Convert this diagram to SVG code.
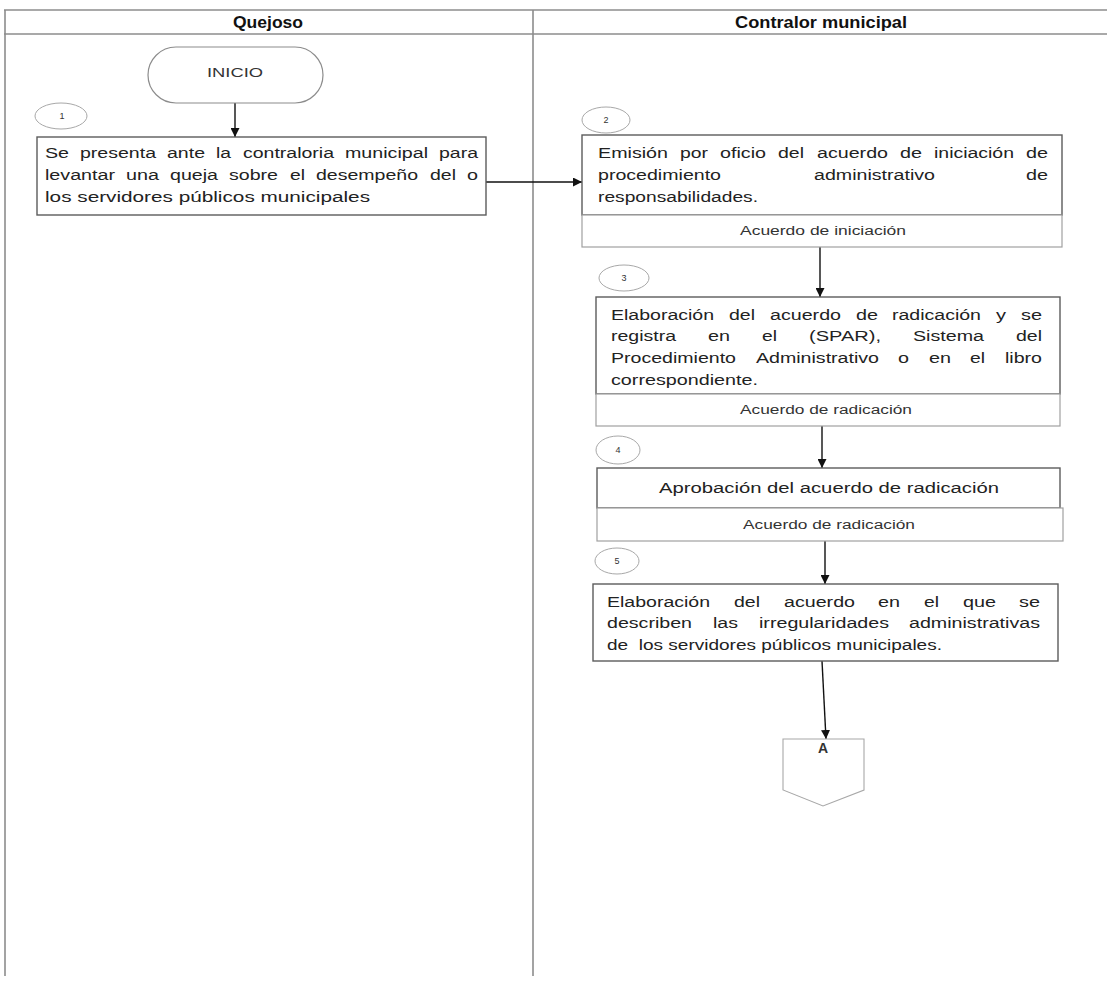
<svg xmlns="http://www.w3.org/2000/svg" width="1107" height="981" viewBox="0 0 1107 981">
  <defs>
    <marker id="arrow" markerUnits="userSpaceOnUse" markerWidth="9" markerHeight="9" refX="9" refY="4.5" orient="auto">
      <path d="M0,0 L9,4.5 L0,9 z" fill="#111"/>
    </marker>
    <style>
      .lane { stroke: #8c8c8c; stroke-width: 1.6; fill: none; }
      .box { fill: #fff; stroke: #5c5c5c; stroke-width: 1.4; }
      .sub { fill: #fff; stroke: #a0a0a0; stroke-width: 1.2; }
      .num { fill: #fff; stroke: #a8a8a8; stroke-width: 1; }
      .term { fill: #fff; stroke: #8c8c8c; stroke-width: 1.2; }
      .offpage { fill: #fff; stroke: #a8a8a8; stroke-width: 1.1; }
      .edge { stroke: #111; stroke-width: 1.4; fill: none; marker-end: url(#arrow); }
      text { font-family: "Liberation Sans", Arial, sans-serif; fill: #222; }
      .hd { font-size: 16px; font-weight: bold; fill: #111; text-anchor: middle; }
      .t { font-size: 14px; }
      .n { font-size: 9px; text-anchor: middle; fill: #333; }
      .lbl { font-size: 12px; text-anchor: middle; fill: #333; }
      .c { font-size: 14px; font-weight: bold; text-anchor: middle; fill: #333; }
    </style>
  </defs>

  <!-- swimlane frame -->
  <g id="lanes">
    <line class="lane" x1="4" y1="10" x2="1107" y2="10"/>
    <line class="lane" x1="4" y1="34" x2="1107" y2="34"/>
    <line class="lane" x1="5" y1="10" x2="5" y2="976"/>
    <line class="lane" x1="533" y1="10" x2="533" y2="976"/>
    <text class="hd" x="268" y="28" textLength="70" lengthAdjust="spacingAndGlyphs">Quejoso</text>
    <text class="hd" x="821" y="28" textLength="172" lengthAdjust="spacingAndGlyphs">Contralor municipal</text>
  </g>

  <!-- connectors -->
  <g id="connectors">
    <line class="edge" x1="235" y1="103" x2="235" y2="137"/>
    <line class="edge" x1="486" y1="182" x2="582" y2="182"/>
    <line class="edge" x1="820" y1="247" x2="820" y2="297"/>
    <line class="edge" x1="822" y1="426" x2="822" y2="468"/>
    <line class="edge" x1="825" y1="541" x2="825" y2="584"/>
    <line class="edge" x1="822" y1="661" x2="826" y2="739"/>
  </g>

  <g id="inicio">
    <rect class="term" x="148" y="47" width="175" height="56" rx="28" ry="28"/>
    <text class="lbl" x="235" y="77" textLength="56" lengthAdjust="spacingAndGlyphs">INICIO</text>
  </g>

  <g id="step1">
    <ellipse class="num" cx="61" cy="116" rx="26" ry="13"/>
    <text class="n" x="62" y="119">1</text>
    <rect class="box" x="37" y="137" width="449" height="78"/>
    <g class="t">
      <text x="45" y="158" textLength="24" lengthAdjust="spacingAndGlyphs">Se</text>
      <text x="80" y="158" textLength="76" lengthAdjust="spacingAndGlyphs">presenta</text>
      <text x="167" y="158" textLength="38" lengthAdjust="spacingAndGlyphs">ante</text>
      <text x="216" y="158" textLength="15" lengthAdjust="spacingAndGlyphs">la</text>
      <text x="243" y="158" textLength="91" lengthAdjust="spacingAndGlyphs">contraloria</text>
      <text x="345" y="158" textLength="83" lengthAdjust="spacingAndGlyphs">municipal</text>
      <text x="439" y="158" textLength="39" lengthAdjust="spacingAndGlyphs">para</text>

      <text x="45" y="180" textLength="70" lengthAdjust="spacingAndGlyphs">levantar</text>
      <text x="126" y="180" textLength="33" lengthAdjust="spacingAndGlyphs">una</text>
      <text x="170" y="180" textLength="48" lengthAdjust="spacingAndGlyphs">queja</text>
      <text x="229" y="180" textLength="49" lengthAdjust="spacingAndGlyphs">sobre</text>
      <text x="290" y="180" textLength="15" lengthAdjust="spacingAndGlyphs">el</text>
      <text x="316" y="180" textLength="102" lengthAdjust="spacingAndGlyphs">desempeño</text>
      <text x="430" y="180" textLength="26" lengthAdjust="spacingAndGlyphs">del</text>
      <text x="467" y="180" textLength="11" lengthAdjust="spacingAndGlyphs">o</text>

      <text x="45" y="202" textLength="325" lengthAdjust="spacingAndGlyphs">los servidores públicos municipales</text>
    </g>
  </g>

  <g id="step2">
    <ellipse class="num" cx="606" cy="120" rx="24" ry="13"/>
    <text class="n" x="606" y="123">2</text>
    <rect class="box" x="582" y="135" width="480" height="80"/>
    <rect class="sub" x="582" y="215" width="480" height="32"/>
    <g class="t">
      <text x="598" y="158" textLength="70" lengthAdjust="spacingAndGlyphs">Emisión</text>
      <text x="680" y="158" textLength="28" lengthAdjust="spacingAndGlyphs">por</text>
      <text x="720" y="158" textLength="46" lengthAdjust="spacingAndGlyphs">oficio</text>
      <text x="778" y="158" textLength="26" lengthAdjust="spacingAndGlyphs">del</text>
      <text x="817" y="158" textLength="71" lengthAdjust="spacingAndGlyphs">acuerdo</text>
      <text x="900" y="158" textLength="22" lengthAdjust="spacingAndGlyphs">de</text>
      <text x="934" y="158" textLength="80" lengthAdjust="spacingAndGlyphs">iniciación</text>
      <text x="1026" y="158" textLength="22" lengthAdjust="spacingAndGlyphs">de</text>

      <text x="598" y="180" textLength="123" lengthAdjust="spacingAndGlyphs">procedimiento</text>
      <text x="814" y="180" textLength="121" lengthAdjust="spacingAndGlyphs">administrativo</text>
      <text x="1026" y="180" textLength="22" lengthAdjust="spacingAndGlyphs">de</text>

      <text x="598" y="202" textLength="160" lengthAdjust="spacingAndGlyphs">responsabilidades.</text>
    </g>
    <text class="lbl" x="823" y="235" textLength="166" lengthAdjust="spacingAndGlyphs">Acuerdo de iniciación</text>
  </g>

  <g id="step3">
    <ellipse class="num" cx="624" cy="278" rx="25" ry="13"/>
    <text class="n" x="624" y="281">3</text>
    <rect class="box" x="596" y="297" width="464" height="97"/>
    <rect class="sub" x="596" y="394" width="464" height="32"/>
    <g class="t">
      <text x="611" y="320" textLength="103" lengthAdjust="spacingAndGlyphs">Elaboración</text>
      <text x="729" y="320" textLength="26" lengthAdjust="spacingAndGlyphs">del</text>
      <text x="770" y="320" textLength="71" lengthAdjust="spacingAndGlyphs">acuerdo</text>
      <text x="856" y="320" textLength="22" lengthAdjust="spacingAndGlyphs">de</text>
      <text x="892" y="320" textLength="89" lengthAdjust="spacingAndGlyphs">radicación</text>
      <text x="996" y="320" textLength="10" lengthAdjust="spacingAndGlyphs">y</text>
      <text x="1021" y="320" textLength="21" lengthAdjust="spacingAndGlyphs">se</text>

      <text x="611" y="341" textLength="65" lengthAdjust="spacingAndGlyphs">registra</text>
      <text x="708" y="341" textLength="22" lengthAdjust="spacingAndGlyphs">en</text>
      <text x="762" y="341" textLength="15" lengthAdjust="spacingAndGlyphs">el</text>
      <text x="809" y="341" textLength="72" lengthAdjust="spacingAndGlyphs">(SPAR),</text>
      <text x="913" y="341" textLength="71" lengthAdjust="spacingAndGlyphs">Sistema</text>
      <text x="1016" y="341" textLength="26" lengthAdjust="spacingAndGlyphs">del</text>

      <text x="611" y="363" textLength="125" lengthAdjust="spacingAndGlyphs">Procedimiento</text>
      <text x="756" y="363" textLength="123" lengthAdjust="spacingAndGlyphs">Administrativo</text>
      <text x="898" y="363" textLength="11" lengthAdjust="spacingAndGlyphs">o</text>
      <text x="929" y="363" textLength="22" lengthAdjust="spacingAndGlyphs">en</text>
      <text x="970" y="363" textLength="15" lengthAdjust="spacingAndGlyphs">el</text>
      <text x="1005" y="363" textLength="37" lengthAdjust="spacingAndGlyphs">libro</text>

      <text x="611" y="385" textLength="147" lengthAdjust="spacingAndGlyphs">correspondiente.</text>
    </g>
    <text class="lbl" x="826" y="414" textLength="172" lengthAdjust="spacingAndGlyphs">Acuerdo de radicación</text>
  </g>

  <g id="step4">
    <ellipse class="num" cx="618" cy="450" rx="22" ry="14"/>
    <text class="n" x="618" y="453">4</text>
    <rect class="box" x="597" y="468" width="463" height="40"/>
    <rect class="sub" x="597" y="508" width="466" height="33"/>
    <text class="t" x="659" y="493" textLength="340" lengthAdjust="spacingAndGlyphs">Aprobación del acuerdo de radicación</text>
    <text class="lbl" x="829" y="529" textLength="172" lengthAdjust="spacingAndGlyphs">Acuerdo de radicación</text>
  </g>

  <g id="step5">
    <ellipse class="num" cx="617" cy="561" rx="22" ry="13"/>
    <text class="n" x="617" y="564">5</text>
    <rect class="box" x="593" y="584" width="465" height="77"/>
    <g class="t">
      <text x="607" y="607" textLength="103" lengthAdjust="spacingAndGlyphs">Elaboración</text>
      <text x="734" y="607" textLength="26" lengthAdjust="spacingAndGlyphs">del</text>
      <text x="784" y="607" textLength="71" lengthAdjust="spacingAndGlyphs">acuerdo</text>
      <text x="878" y="607" textLength="22" lengthAdjust="spacingAndGlyphs">en</text>
      <text x="924" y="607" textLength="15" lengthAdjust="spacingAndGlyphs">el</text>
      <text x="963" y="607" textLength="33" lengthAdjust="spacingAndGlyphs">que</text>
      <text x="1019" y="607" textLength="21" lengthAdjust="spacingAndGlyphs">se</text>

      <text x="607" y="628" textLength="85" lengthAdjust="spacingAndGlyphs">describen</text>
      <text x="713" y="628" textLength="25" lengthAdjust="spacingAndGlyphs">las</text>
      <text x="759" y="628" textLength="130" lengthAdjust="spacingAndGlyphs">irregularidades</text>
      <text x="909" y="628" textLength="131" lengthAdjust="spacingAndGlyphs">administrativas</text>

      <text x="607" y="650" textLength="335" lengthAdjust="spacingAndGlyphs">de&#160; los servidores públicos municipales.</text>
    </g>
  </g>

  <g id="connector-a">
    <path class="offpage" d="M783,739 L864,739 L864,790 L823,806 L783,790 Z"/>
    <text class="c" x="823" y="753">A</text>
  </g>
</svg>
